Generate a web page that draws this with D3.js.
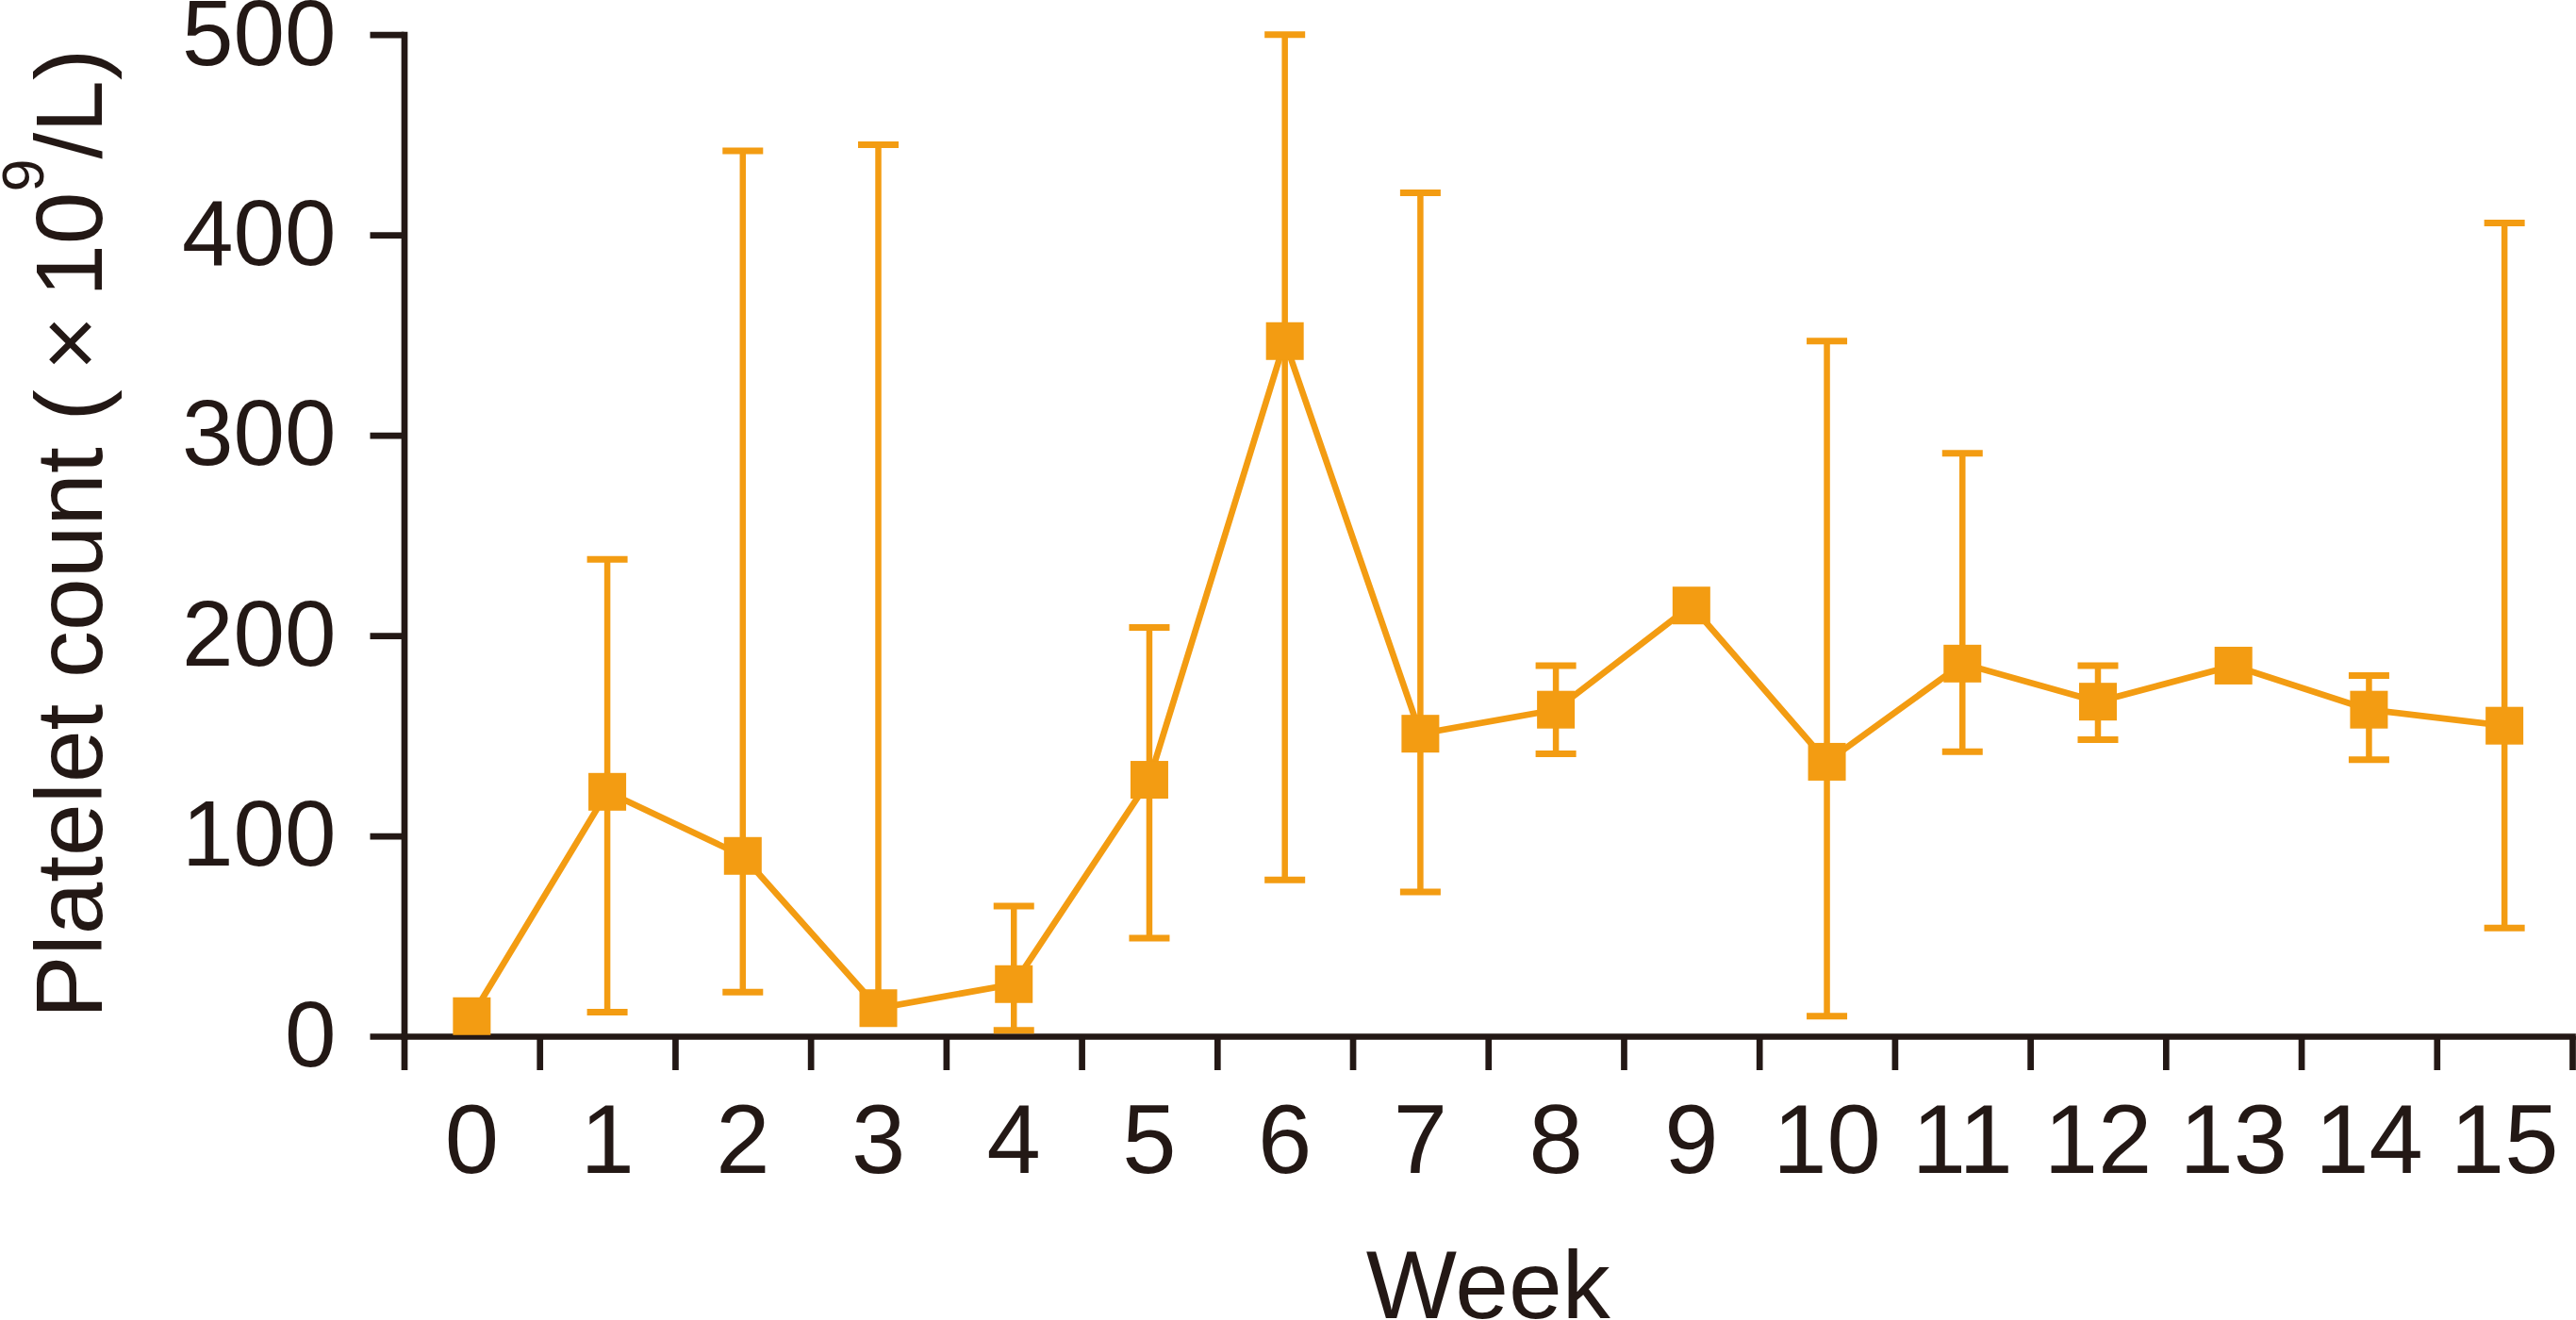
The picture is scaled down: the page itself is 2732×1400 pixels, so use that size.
<!DOCTYPE html>
<html>
<head>
<meta charset="utf-8">
<script src="https://cdn.jsdelivr.net/npm/d3@7"></script>
<style>
  html, body { margin: 0; padding: 0; background: #fff; }
  svg { display: block; }
  text { font-family: "Liberation Sans", Arial, sans-serif; fill: #231815; }
</style>
</head>
<body>
<script>
// data
const weeks = [0, 1, 2, 3, 4, 5, 6, 7, 8, 9, 10, 11, 12, 13, 14, 15]
const platelet = [10, 122, 90, 14, 26, 128, 347, 151, 163, 215, 137, 186, 167, 185, 163, 155]
const upperBar = [null, 238, 442, 445, 65, 204, 500, 421, 185, null, 347, 291, 185, null, 180, 406]
const lowerBar = [null, 12, 22, null, 3, 49, 78, 72, 141, null, 10, 142, 148, null, 138, 54]
const yTicks = [0, 100, 200, 300, 400, 500]

const W = 2732, H = 1400
const orange = "#F39C12"
const ink = "#231815"

const svg = d3.select("body").append("svg")
    .attr("width", W)
    .attr("height", H)

// scales
const x = d3.scaleBand()
    .domain(weeks)
    .range([428.5, 2728])
    .padding(0)

// same range, used for the boundary ticks of the x axis
const xEdge = d3.scaleLinear()
    .domain([0, weeks.length])
    .range([428.5, 2728])

const y = d3.scaleLinear()
    .domain([0, 500])
    .range([1099, 36.7])

// y axis
const gy = svg.append("g")
    .attr("transform", "translate(428.5,0)")
    .call(d3.axisLeft(y).tickValues(yTicks).tickSize(36).tickSizeOuter(0).tickPadding(36))
gy.selectAll("text").style("font-size", "98px").attr("fill", ink)

// x axis : ticks between the categories
const gx = svg.append("g")
    .attr("transform", "translate(0,1099)")
    .call(d3.axisBottom(xEdge).tickValues(d3.range(0, weeks.length + 1)).tickFormat("").tickSize(36).tickSizeOuter(0))

// x labels centred in each category
const gxl = svg.append("g")
    .attr("transform", "translate(0,1099)")
    .call(d3.axisBottom(x).tickSize(0).tickPadding(72))
gxl.select(".domain").remove()
gxl.selectAll("text").style("font-size", "103px").attr("fill", ink)

svg.selectAll(".domain, .tick line")
    .attr("stroke", ink)
    .attr("stroke-width", 6.7)
svg.selectAll(".domain").attr("stroke-linecap", "square")

// axis titles
svg.append("text")
    .attr("x", (428.5 + 2728) / 2)
    .attr("y", 1398)
    .attr("text-anchor", "middle")
    .style("font-size", "102px")
    .text("Week")

const yl = svg.append("text")
    .attr("transform", "translate(108,566) rotate(-90)")
    .attr("text-anchor", "middle")
    .style("font-size", "100px")
yl.append("tspan").text("Platelet count (\u2009×\u200910")
yl.append("tspan").attr("dy", "-62px").style("font-size", "63px").text("9")
yl.append("tspan").attr("dy", "62px").text("/L)")

// error bars
const pts = weeks.map((w, i) => ({ w: w, v: platelet[i], hi: upperBar[i], lo: lowerBar[i] }))
const capW = 43

const eb = svg.append("g")
    .attr("stroke", orange)
pts.forEach(d => {
    const cx = x(d.w) + x.bandwidth() / 2
    if (d.hi != null) {
        eb.append("line").attr("x1", cx).attr("x2", cx).attr("y1", y(d.v)).attr("y2", y(d.hi)).attr("stroke-width", 6.5)
        eb.append("line").attr("x1", cx - capW / 2).attr("x2", cx + capW / 2).attr("y1", y(d.hi)).attr("y2", y(d.hi)).attr("stroke-width", 7)
    }
    if (d.lo != null) {
        eb.append("line").attr("x1", cx).attr("x2", cx).attr("y1", y(d.v)).attr("y2", y(d.lo)).attr("stroke-width", 6.5)
        eb.append("line").attr("x1", cx - capW / 2).attr("x2", cx + capW / 2).attr("y1", y(d.lo)).attr("y2", y(d.lo)).attr("stroke-width", 7)
    }
})

// mean line
const line = d3.line()
    .x(d => x(d.w) + x.bandwidth() / 2)
    .y(d => y(d.v))

svg.append("path")
    .datum(pts)
    .attr("d", line)
    .attr("fill", "none")
    .attr("stroke", orange)
    .attr("stroke-width", 6.7)
    .attr("stroke-linejoin", "miter")

// square markers
const sz = 40
svg.append("g")
    .selectAll("rect")
    .data(pts)
    .join("rect")
    .attr("x", d => x(d.w) + x.bandwidth() / 2 - sz / 2)
    .attr("y", d => y(d.v) - sz / 2)
    .attr("width", sz)
    .attr("height", sz)
    .attr("fill", orange)
</script>
</body>
</html>
